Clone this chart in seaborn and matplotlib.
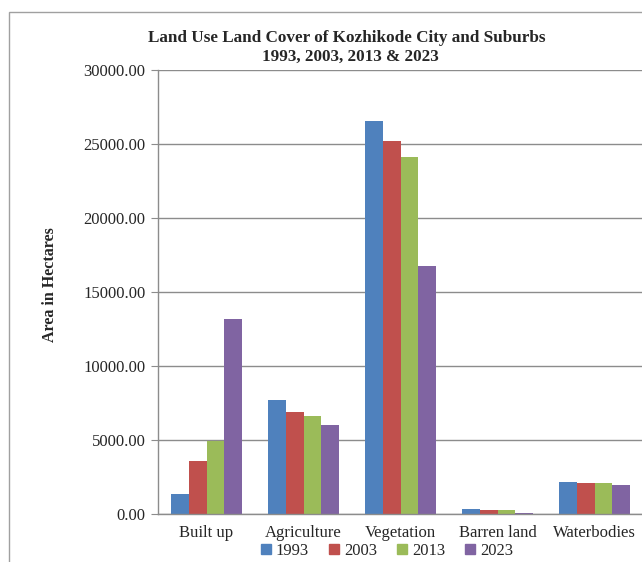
import matplotlib

matplotlib.use("Agg")
import matplotlib.pyplot as plt
import matplotlib.patches as mpatches
import numpy as np
import pandas as pd
import seaborn as sns

# LULC area (hectares)
categories = ["Built up", "Agriculture", "Vegetation", "Barren land", "Waterbodies"]
years = ["1993", "2003", "2013", "2023"]
area_1993 = [1330, 7700, 26530, 360, 2135]
area_2003 = [3580, 6910, 25180, 250, 2075]
area_2013 = [4950, 6600, 24120, 250, 2075]
area_2023 = [13175, 6010, 16780, 90, 1980]
yticks = [0, 5000, 10000, 15000, 20000, 25000, 30000]

colors = ["#4F81BD", "#C0504D", "#9BBB59", "#8064A2"]

df = pd.DataFrame({
    "category": categories * 4,
    "year": sum([[y] * len(categories) for y in years], []),
    "area": area_1993 + area_2003 + area_2013 + area_2023,
})

sns.set_style("white")
plt.rcParams["font.family"] = ["Liberation Serif", "DejaVu Serif"]

fig = plt.figure(figsize=(6.42, 5.62), dpi=100)
ax = fig.add_axes([158 / 642, 48 / 562, 485 / 642, 444 / 562])

sns.barplot(
    data=df, x="category", y="area", hue="year", order=categories,
    hue_order=years, palette=colors, width=0.727, saturation=1,
    linewidth=0, ax=ax, legend=False,
)

ax.set_xlim(-0.5, 4.5)
ax.set_ylim(0, 30000)
ax.set_yticks(yticks)
ax.set_yticklabels([f"{v:.2f}" for v in yticks], fontsize=12)
ax.yaxis.grid(True, color="#8c8c8c", linewidth=1)
ax.set_axisbelow(True)
ax.set_xlabel("")
ax.set_ylabel("")

ax.set_xticks(range(len(categories)))
ax.set_xticklabels(categories, fontsize=12)
ax.set_xticks(np.arange(-0.5, len(categories)), minor=True)
ax.tick_params(axis="x", which="major", length=0, pad=8)
ax.tick_params(axis="x", which="minor", length=5, color="#8c8c8c", direction="out")
ax.tick_params(axis="y", length=5, color="#8c8c8c", direction="out", pad=4, left=True)

for side in ["top", "right"]:
    ax.spines[side].set_visible(False)
for side in ["left", "bottom"]:
    ax.spines[side].set_color("#8c8c8c")
    ax.spines[side].set_linewidth(1)

fig.text(0.540, 1 - 38 / 562, "Land Use Land Cover of Kozhikode City and Suburbs",
         ha="center", va="center", fontsize=12.3, fontweight="bold")
fig.text(0.545, 1 - 57 / 562, "1993, 2003, 2013 & 2023",
         ha="center", va="center", fontsize=12.3, fontweight="bold")
fig.text(50 / 642, 1 - 285 / 562, "Area in Hectares", rotation=90,
         ha="center", va="center", fontsize=11.5, fontweight="bold")

handles = [mpatches.Patch(color=c, label=y) for c, y in zip(colors, years)]
fig.legend(handles=handles, loc="center", bbox_to_anchor=(387 / 642, 11 / 562),
           ncol=4, frameon=False, fontsize=12, handlelength=0.6, handleheight=0.6,
           handletextpad=0.3, columnspacing=1.2, borderpad=0)

frame = mpatches.Rectangle((9 / 642, -0.1), 1.2, (562 - 12) / 562 + 0.1,
                           transform=fig.transFigure, fill=False,
                           edgecolor="#a0a0a0", linewidth=1)
fig.add_artist(frame)

fig.savefig("out.png", dpi=100)
plt.close(fig)
